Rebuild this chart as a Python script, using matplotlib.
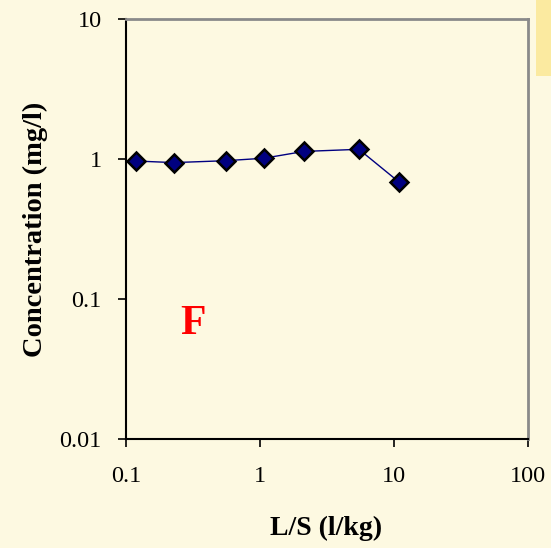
import matplotlib.pyplot as plt
from matplotlib.patches import Rectangle

# L/S ratio (l/kg) and concentration (mg/l)
ls_ratio = [0.119, 0.228, 0.557, 1.07, 2.13, 5.48, 10.96]
conc = [0.965, 0.94, 0.97, 1.01, 1.13, 1.17, 0.68]

x_ticks = [0.1, 1, 10, 100]
x_ticklabels = ["0.1", "1", "10", "100"]
y_ticks = [0.01, 0.1, 1, 10]
y_ticklabels = ["0.01", "0.1", "1", "10"]

bg = "#FDF9E1"
plt.rcParams["font.family"] = ["Liberation Serif", "DejaVu Serif"]

fig = plt.figure(figsize=(5.51, 5.48), dpi=100, facecolor=bg)
# yellow tab at top right corner
fig.patches.append(Rectangle((536 / 551, 1 - 76 / 548), 15 / 551, 76 / 548,
                             transform=fig.transFigure, facecolor="#FBEAA0",
                             edgecolor="none"))

ax = fig.add_axes([0.2283, 0.1998, 0.7300, 0.7655])
ax.set_facecolor(bg)
ax.set_xscale("log")
ax.set_yscale("log")
ax.set_xlim(0.1, 100)
ax.set_ylim(0.01, 10)

ax.plot(ls_ratio, conc, color="#000080", lw=1, marker="D", ms=9.5,
        markerfacecolor="#000080", markeredgecolor="black", mew=1.8,
        zorder=3, clip_on=False)

ax.set_xticks(x_ticks)
ax.set_xticklabels(x_ticklabels)
ax.set_yticks(y_ticks)
ax.set_yticklabels(y_ticklabels)
ax.minorticks_off()
ax.tick_params(axis="both", direction="out", length=5.5, width=1.2,
               labelsize=17.5, color="black")
ax.tick_params(axis="x", pad=14)
ax.tick_params(axis="y", pad=12)

for side in ["left", "bottom"]:
    ax.spines[side].set_color("black")
    ax.spines[side].set_linewidth(1.5)
for side in ["top", "right"]:
    ax.spines[side].set_color("#8A8A8A")
    ax.spines[side].set_linewidth(2)

fig.text(326 / 551, 1 - 528 / 548, "L/S (l/kg)", fontsize=20,
         fontweight="bold", ha="center", va="center")
fig.text(35 / 551, 1 - 229 / 548, "Concentration (mg/l)", rotation=90,
         fontsize=20.5, fontweight="bold", ha="center", va="center")

ax.text(193, 548 - 324, "F", transform=None, color="red", fontsize=30,
        fontweight="bold", ha="center", va="center")

fig.savefig("out.png", dpi=100, facecolor=bg)
